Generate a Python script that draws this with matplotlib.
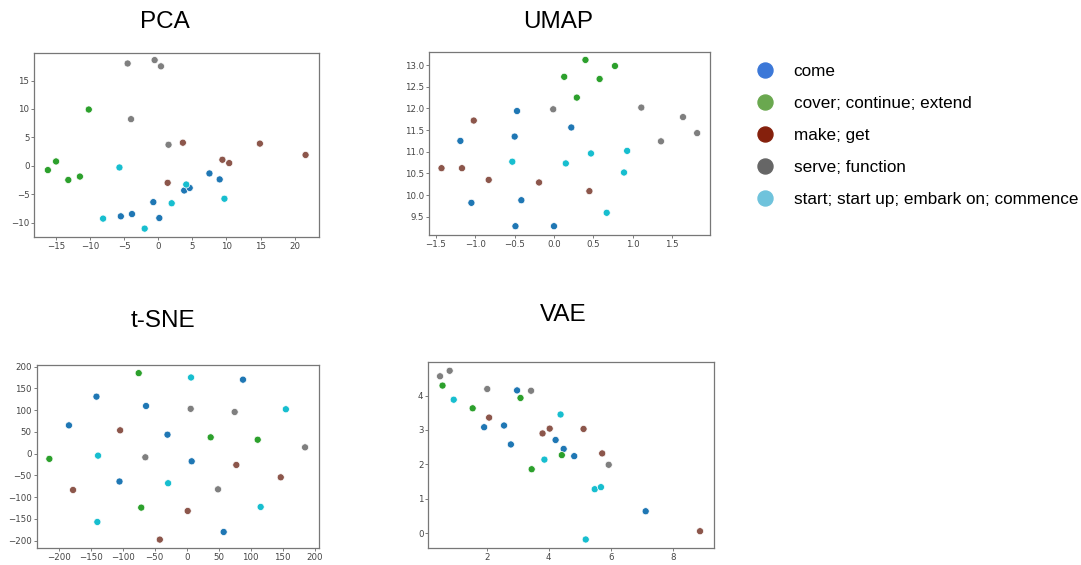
import matplotlib
matplotlib.use("Agg")
import matplotlib.pyplot as plt
from matplotlib.lines import Line2D
from matplotlib.ticker import MultipleLocator

# verb senses and colours
classes = ["come", "cover; continue; extend", "make; get", "serve; function",
           "start; start up; embark on; commence"]
point_colors = ["#1f77b4", "#2ca02c", "#8c564b", "#7f7f7f", "#17becf"]
legend_colors = ["#3c78d8", "#6aa84f", "#85200c", "#666666", "#6fc3dc"]

# class of every point (same order in all four embeddings)
point_class = [0, 0, 0, 0, 0, 0, 0, 0,
               1, 1, 1, 1, 1,
               2, 2, 2, 2, 2, 2,
               3, 3, 3, 3, 3,
               4, 4, 4, 4, 4, 4]

pca_x = [7.5, 9.0, 3.8, 4.6, -0.73, 0.15, -3.86, -5.5,
         -10.2, -15.0, -16.2, -13.2, -11.5,
         3.6, 14.9, 21.6, 9.4, 10.4, 1.37,
         -4.5, -0.54, 0.39, -4.0, 1.5,
         -5.7, 4.1, 1.96, 9.7, -8.1, -2.0]
pca_y = [-1.35, -2.4, -4.35, -3.9, -6.4, -9.2, -8.5, -8.9,
         9.9, 0.76, -0.76, -2.5, -1.9,
         4.06, 3.9, 1.9, 1.06, 0.47, -3.0,
         18.0, 18.6, 17.5, 8.2, 3.7,
         -0.3, -3.3, -6.6, -5.8, -9.3, -11.06]

umap_x = [-0.47, 0.22, -0.5, -1.19, -1.05, -0.415, -0.49, 0.0,
          0.40, 0.775, 0.13, 0.58, 0.29,
          -1.02, -1.43, -1.17, -0.83, -0.19, 0.45,
          -0.01, 1.11, 1.64, 1.82, 1.36,
          -0.53, 0.15, 0.47, 0.93, 0.89, 0.67]
umap_y = [11.94, 11.56, 11.35, 11.25, 9.82, 9.88, 9.28, 9.28,
          13.12, 12.98, 12.73, 12.68, 12.25,
          11.72, 10.62, 10.62, 10.35, 10.29, 10.09,
          11.98, 12.02, 11.8, 11.43, 11.24,
          10.77, 10.73, 10.96, 11.02, 10.52, 9.59]

tsne_x = [88, -141, -63.5, -184, -30, 7.8, -105, 57.8,
          -75, -214.6, 37.5, 111, -71,
          -104, 77.6, 147, -177.6, 1.6, -42,
          6.25, 75, -64.6, 185, 49,
          6.8, 155, -138.5, -29, 115.6, -139.6]
tsne_y = [170, 131, 109.5, 65, 43.6, -17.6, -64, -180,
          185, -12, 37.5, 32, -124,
          53.6, -26, -54.4, -83.5, -131.7, -197.5,
          103, 95.7, -8.4, 14.5, -82,
          175, 102, -4.6, -68, -122.5, -157]

vae_x = [2.98, 1.92, 2.56, 2.78, 4.22, 4.48, 4.82, 7.12,
         0.58, 1.55, 3.09, 3.45, 4.42,
         2.08, 3.80, 4.03, 5.12, 5.72, 8.87,
         0.50, 0.81, 2.02, 3.43, 5.93,
         0.94, 4.38, 3.86, 5.48, 5.68, 5.19]
vae_y = [4.15, 3.08, 3.13, 2.58, 2.71, 2.45, 2.24, 0.64,
         4.29, 3.63, 3.93, 1.86, 2.27,
         3.36, 2.90, 3.04, 3.03, 2.32, 0.06,
         4.56, 4.72, 4.19, 4.14, 1.99,
         3.88, 3.45, 2.14, 1.28, 1.34, -0.18]

W, H = 1081, 565
fig = plt.figure(figsize=(W / 100, H / 100), dpi=100)


def px_axes(left, top, right, bottom):
    return fig.add_axes([left / W, 1 - bottom / H, (right - left) / W, (bottom - top) / H])


panels = [
    # title, x, y, (left, top, right, bottom) px, xlim, ylim, xstep, ystep, title pos
    ("PCA", pca_x, pca_y, (34.3, 52.7, 319, 237.3), (-18.19, 23.57), (-12.59, 19.9), 5, 5, (165, 28.3)),
    ("UMAP", umap_x, umap_y, (429, 51.7, 710.3, 235), (-1.589, 1.987), (9.077, 13.31), 0.5, 0.5, (558, 28.3)),
    ("t-SNE", tsne_x, tsne_y, (36.7, 365, 319, 548.3), (-234.4, 206.8), (-217.5, 203.7), 50, 50, (163.3, 327.3)),
    ("VAE", vae_x, vae_y, (428.3, 362.3, 713.7, 548.3), (0.122, 9.31), (-0.436, 4.966), 2, 1, (563.7, 321)),
]

for title, xs, ys, box, xlim, ylim, xstep, ystep, tpos in panels:
    ax = px_axes(*box)
    cols = [point_colors[c] for c in point_class]
    ax.scatter(xs, ys, c=cols, s=26, edgecolors="white", linewidths=0.5, zorder=3)
    ax.set_xlim(*xlim)
    ax.set_ylim(*ylim)
    ax.xaxis.set_major_locator(MultipleLocator(xstep))
    ax.yaxis.set_major_locator(MultipleLocator(ystep))
    ax.tick_params(labelsize=6.2, length=2, width=0.6, color="#666666",
                   labelcolor="#444444", pad=1.5)
    for sp in ax.spines.values():
        sp.set_color("#777777")
        sp.set_linewidth(0.9)
    fig.text(tpos[0] / W, 1 - tpos[1] / H, title, ha="center", va="baseline",
             fontsize=17.5, family="Liberation Sans", color="black")

handles = [Line2D([], [], linestyle="none", marker="o", markersize=10.8,
                  markerfacecolor=c, markeredgecolor=c) for c in legend_colors]
fig.legend(handles, classes, loc="upper left", bbox_to_anchor=(747.5 / W, 1 - 55 / H),
           frameon=False, borderpad=0, handlelength=1.0, handletextpad=1.2,
           labelspacing=1.0, prop={"family": "Liberation Sans", "size": 12.3})

fig.savefig("out.png", dpi=100)
